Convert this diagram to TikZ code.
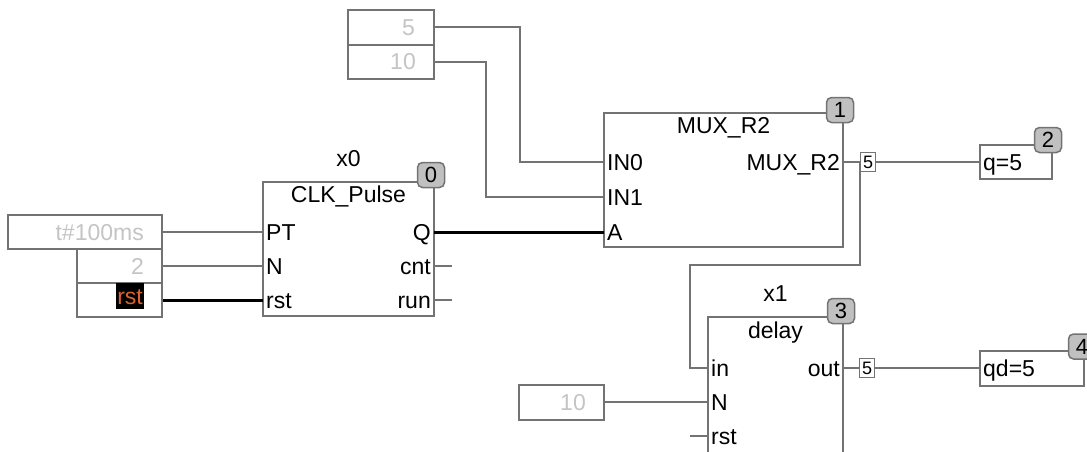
\documentclass[tikz,border=0pt]{standalone}
\usepackage{fontspec}
\setmainfont{Liberation Sans}
\usepackage{xcolor}
\usepackage{tikz}
\usetikzlibrary{positioning, calc}

\definecolor{wiregray}{HTML}{737373}
\definecolor{constgray}{HTML}{C4C4C4}
\definecolor{badgegray}{HTML}{C0C0C0}
\definecolor{rstorange}{HTML}{D9642E}

\begin{document}
\begin{tikzpicture}[
    x=1pt, y=-1pt,
    font=\fontsize{23}{25}\selectfont,
    fblock/.style={rectangle, draw=wiregray, line width=2pt, inner sep=0pt},
    konst/.style={rectangle, draw=wiregray, line width=2pt, inner sep=0pt, minimum height=34pt},
    ktext/.style={inner sep=0pt, text height=16pt, text depth=0pt, text=constgray},
    title/.style={inner sep=0pt, text height=16pt, text depth=0pt},
    iname/.style={inner sep=0pt, text height=16pt, text depth=0pt},
    pinl/.style={anchor=west, inner xsep=3pt, inner ysep=0pt, text height=16pt, text depth=0pt},
    pinr/.style={anchor=east, inner xsep=3pt, inner ysep=0pt, text height=16pt, text depth=0pt},
    badge/.style={rectangle, rounded corners=5pt, fill=badgegray, draw=wiregray, line width=1.5pt, minimum width=27pt, minimum height=25pt, inner sep=0pt, font=\fontsize{22}{24}\selectfont},
    valbox/.style={rectangle, draw=wiregray, line width=1.5pt, minimum width=15pt, minimum height=19pt, inner sep=0pt, font=\fontsize{18}{20}\selectfont},
    wire/.style={draw=wiregray, line width=2pt},
    bus/.style={draw=black, line width=3pt}
]
    \useasboundingbox (0,0) rectangle (1087,452);

    % constants
    \node [konst, minimum width=154pt] (cT) at (85,232) {};
    \node [konst, minimum width=85pt] (c2) at (119.5,266) {};
    \node [konst, minimum width=85pt] (cRst) at (119.5,300) {};
    \node [konst, minimum width=86pt, minimum height=35pt] (c5) at (391,27.5) {};
    \node [konst, minimum width=86pt] (c10) at (391,62) {};
    \node [konst, minimum width=85pt, minimum height=35pt] (c10b) at (561.5,402) {};
    \node [ktext, left=19pt of cT.east] {t\#100ms};
    \node [ktext, left=19pt of c2.east] {2};
    \node [ktext, below left=1pt and 19pt of cRst.north east, fill=black, text=rstorange, inner xsep=1pt, text height=21pt, text depth=5pt] {rst};
    \node [ktext, left=20pt of c5.east] {5};
    \node [ktext, left=19pt of c10.east] {10};
    \node [ktext, left=19pt of c10b.east] {10};

    % function blocks
    \node [fblock, minimum width=171pt, minimum height=134pt] (clk) at (348.5,249) {};
    \node [title, below=5pt of clk.north] {CLK\_Pulse};
    \node [iname, above=14pt of clk.north] {x0};
    \node [badge] (clkno) at ($(clk.north east)+(-4,-6)$) {0};

    \node [fblock, minimum width=239pt, minimum height=134pt] (mux) at (723.5,180) {};
    \node [title, below=5pt of mux.north] {MUX\_R2};
    \node [badge] (muxno) at ($(mux.north east)+(-4,-2)$) {1};

    \node [fblock, minimum width=135pt, minimum height=144pt] (dly) at (775.5,389) {};
    \node [title, below=6pt of dly.north] {delay};
    \node [iname, above=14pt of dly.north] {x1};
    \node [badge] (dlyno) at ($(dly.north east)+(-3,-5)$) {3};

    % outputs
    \node [fblock, minimum width=72pt, minimum height=34pt] (q) at (1016,162) {};
    \node [pinl, right=1pt of q.west] {q=5};
    \node [badge] (qno) at ($(q.north east)+(-5,-4)$) {2};
    \node [fblock, minimum width=104pt, minimum height=35pt] (qd) at (1032,368) {};
    \node [pinl, right=1pt of qd.west] {qd=5};
    \node [badge] (qdno) at ($(qd.north east)+(-3,-3)$) {4};

    \node [valbox] (v1) at (868,162) {5};
    \node [valbox] (v2) at (867,368) {5};

    % pins
    \coordinate (clk-PT) at (263,232);
    \coordinate (clk-N) at (263,266);
    \coordinate (clk-rst) at (263,300);
    \coordinate (clk-Q) at (434,232);
    \coordinate (clk-cnt) at (434,266);
    \coordinate (clk-run) at (434,300);
    \coordinate (mux-IN0) at (604,162);
    \coordinate (mux-IN1) at (604,197);
    \coordinate (mux-A) at (604,232);
    \coordinate (mux-out) at (843,162);
    \coordinate (dly-in) at (708,368);
    \coordinate (dly-N) at (708,402);
    \coordinate (dly-rst) at (708,436);
    \coordinate (dly-out) at (843,368);
    \coordinate (cnt-end) at (452,266);
    \coordinate (run-end) at (452,300);
    \coordinate (rst-end) at (690,436);

    \node [pinl] at (clk-PT) {PT};
    \node [pinl] at (clk-N) {N};
    \node [pinl] at (clk-rst) {rst};
    \node [pinr] at (clk-Q) {Q};
    \node [pinr] at (clk-cnt) {cnt};
    \node [pinr] at (clk-run) {run};
    \node [pinl] at (mux-IN0) {IN0};
    \node [pinl] at (mux-IN1) {IN1};
    \node [pinl] at (mux-A) {A};
    \node [pinr] at (mux-out) {MUX\_R2};
    \node [pinl] at (dly-in) {in};
    \node [pinl] at (dly-N) {N};
    \node [pinl] at (dly-rst) {rst};
    \node [pinr] at (dly-out) {out};

    % wires
    \draw [wire] (cT.east) -- (clk-PT);
    \draw [wire] (c2.east) -- (clk-N);
    \draw [bus] (cRst.east) -- (clk-rst);
    \draw [bus] (clk-Q) -- (mux-A);
    \draw [wire] (clk-cnt) -- (cnt-end);
    \draw [wire] (clk-run) -- (run-end);
    \draw [wire] (c5.east) -| ([xshift=-84pt]mux-IN0) -- (mux-IN0);
    \draw [wire] (c10.east) -| ([xshift=-118pt]mux-IN1) -- (mux-IN1);
    \draw [wire] (mux-out) -- (v1.west);
    \draw [wire] (v1.east) -- (q.west);
    \draw [wire] (v1.west) -- ++(0,103) -| ([xshift=-18pt]dly-in) -- (dly-in);
    \draw [wire] (c10b.east) -- (dly-N);
    \draw [wire] (rst-end) -- (dly-rst);
    \draw [wire] (dly-out) -- (v2.west);
    \draw [wire] (v2.east) -- (qd.west);
\end{tikzpicture}
\end{document}
